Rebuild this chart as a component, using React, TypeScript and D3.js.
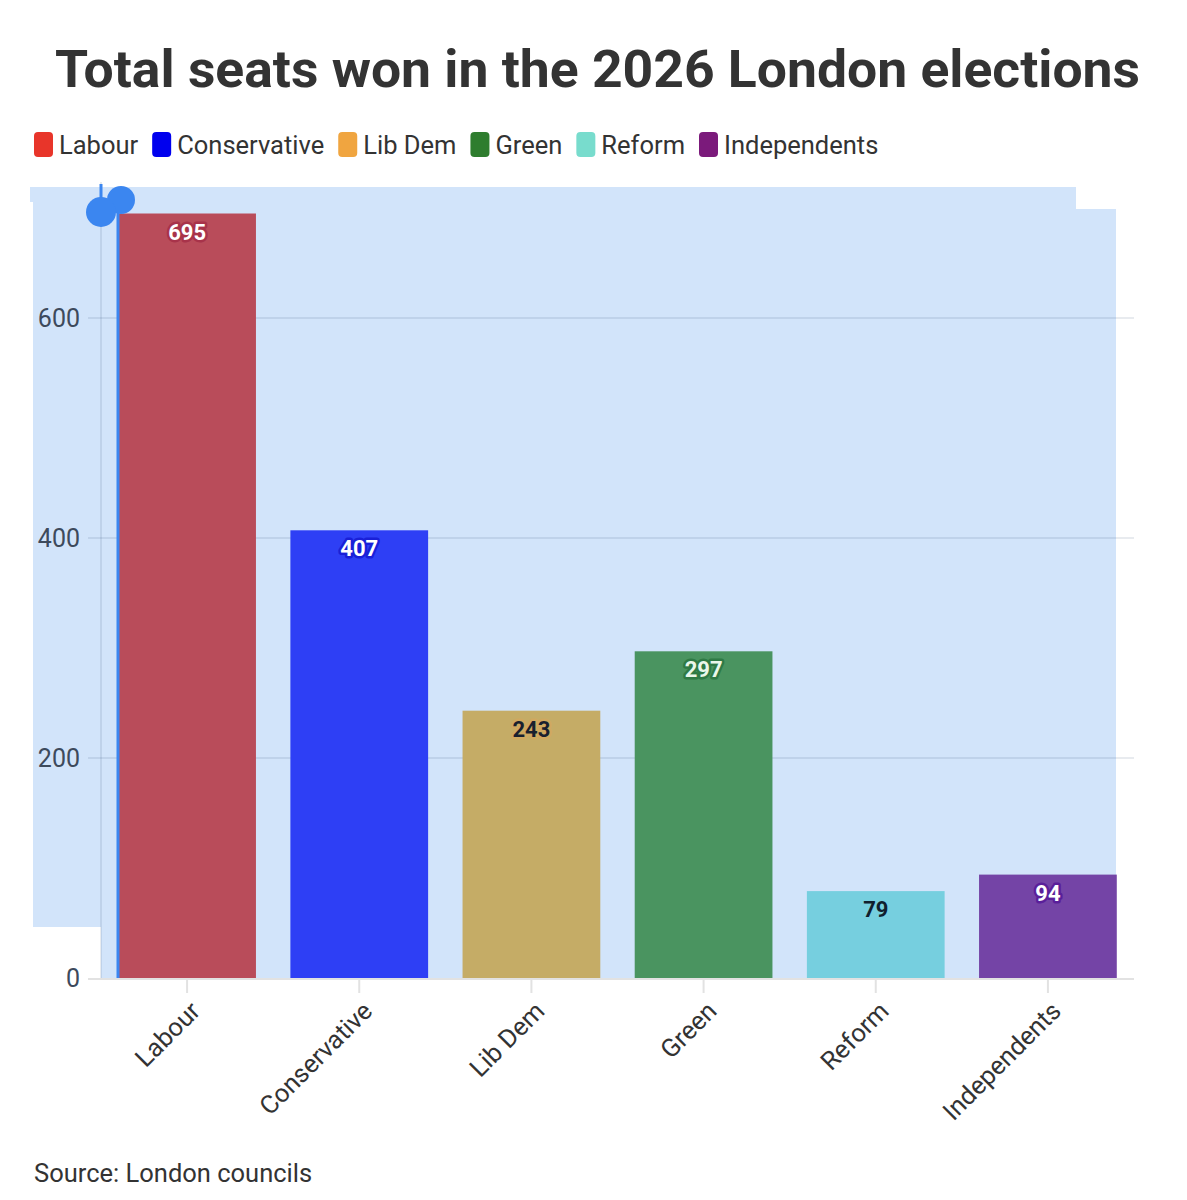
import { useEffect, useRef } from "react";
import * as d3 from "d3";

const parties = ["Labour", "Conservative", "Lib Dem", "Green", "Reform", "Independents"];
const seats = [695, 407, 243, 297, 79, 94];
const legendColors = ["#e8352a", "#0000ee", "#f0a540", "#2e7d2e", "#78dccd", "#7b1a7b"];
const barColors = ["#b94c5a", "#2e3ff5", "#c5ac66", "#4a9460", "#76cfdf", "#7444a6"];
const labelColors = ["#ffffff", "#ffffff", "#1a1f2e", "#eaf7ea", "#10202e", "#ffffff"];
const haloColors = ["#a8334a", "#1a20d8", "#d0a860", "#2f7a45", "#76cfdf", "#5a1f9a"];
const yTicks = [0, 200, 400, 600];

const FONT = "Roboto, 'Noto Sans', sans-serif";

const App = () => {
  const ref = useRef<SVGSVGElement | null>(null);

  useEffect(() => {
    if (!ref.current) return;
    const width = 1187;
    const height = 1200;

    const svg = d3.select(ref.current);
    svg.selectAll("*").remove();
    svg.attr("width", width).attr("height", height);

    svg.append("rect").attr("width", width).attr("height", height).attr("fill", "#fff");

    // title
    svg
      .append("text")
      .attr("x", 55)
      .attr("y", 87)
      .attr("textLength", 1085)
      .attr("lengthAdjust", "spacingAndGlyphs")
      .attr("font-family", FONT)
      .attr("font-weight", 700)
      .attr("font-size", 52)
      .attr("fill", "#333")
      .text("Total seats won in the 2026 London elections");

    // legend
    const legend = svg.append("g").attr("transform", "translate(34, 145)");
    let lx = 0;
    parties.forEach((p, i) => {
      const g = legend.append("g").attr("transform", `translate(${lx}, 0)`);
      g.append("rect")
        .attr("x", 0)
        .attr("y", -13)
        .attr("width", 19)
        .attr("height", 25)
        .attr("rx", 4)
        .attr("fill", legendColors[i]);
      const t = g
        .append("text")
        .attr("x", 25)
        .attr("y", 9)
        .attr("font-family", FONT)
        .attr("font-size", 25.5)
        .attr("fill", "#333")
        .text(p);
      const w = (t.node() as SVGTextElement).getComputedTextLength();
      lx += 25 + w + 14;
    });

    const x = d3
      .scaleBand<string>()
      .domain(parties)
      .range([101, 1134])
      .paddingInner(0.2)
      .paddingOuter(0.1);

    const y = d3.scaleLinear().domain([0, 600]).range([978, 318]);

    // selection highlight behind the plot
    svg
      .append("path")
      .attr(
        "d",
        "M30,187 L1076,187 L1076,209 L1116,209 L1116,978 L101,978 L101,927 L33,927 L33,202 L30,202 Z"
      )
      .attr("fill", "#d2e4fa");

    // grid
    svg
      .append("g")
      .selectAll("line")
      .data(yTicks.filter((d) => d > 0))
      .join("line")
      .attr("x1", 88)
      .attr("x2", 1134)
      .attr("y1", (d) => y(d))
      .attr("y2", (d) => y(d))
      .attr("stroke", "#1e3a5f")
      .attr("stroke-opacity", 0.1)
      .attr("stroke-width", 2);

    // y axis line
    svg
      .append("line")
      .attr("x1", 101)
      .attr("x2", 101)
      .attr("y1", 182)
      .attr("y2", 978)
      .attr("stroke", "#1e3a5f")
      .attr("stroke-opacity", 0.1)
      .attr("stroke-width", 2);

    // y tick labels
    svg
      .append("g")
      .selectAll("text")
      .data(yTicks)
      .join("text")
      .attr("x", 80)
      .attr("y", (d) => y(d))
      .attr("dy", "0.36em")
      .attr("text-anchor", "end")
      .attr("font-family", FONT)
      .attr("font-size", 25)
      .attr("fill", "#3d4a5c")
      .text((d) => d);

    // bars
    svg
      .append("g")
      .selectAll("rect")
      .data(seats)
      .join("rect")
      .attr("x", (_, i) => x(parties[i])!)
      .attr("y", (d) => y(d))
      .attr("width", x.bandwidth())
      .attr("height", (d) => y(0) - y(d))
      .attr("fill", (_, i) => barColors[i]);

    // value labels
    svg
      .append("g")
      .selectAll("text")
      .data(seats)
      .join("text")
      .attr("x", (_, i) => x(parties[i])! + x.bandwidth() / 2)
      .attr("y", (d) => y(d) + 26)
      .attr("text-anchor", "middle")
      .attr("font-family", FONT)
      .attr("font-weight", 700)
      .attr("font-size", 22)
      .attr("fill", (_, i) => labelColors[i])
      .attr("stroke", (_, i) => haloColors[i])
      .attr("stroke-width", 5)
      .attr("stroke-linejoin", "round")
      .attr("paint-order", "stroke")
      .text((d) => d);

    // x axis baseline + ticks
    svg
      .append("line")
      .attr("x1", 88)
      .attr("x2", 1134)
      .attr("y1", 979)
      .attr("y2", 979)
      .attr("stroke", "#e2e2e2")
      .attr("stroke-width", 2);

    svg
      .append("g")
      .selectAll("line")
      .data(parties)
      .join("line")
      .attr("x1", (d) => x(d)! + x.bandwidth() / 2)
      .attr("x2", (d) => x(d)! + x.bandwidth() / 2)
      .attr("y1", 980)
      .attr("y2", 993)
      .attr("stroke", "#e2e2e2")
      .attr("stroke-width", 2);

    svg
      .append("g")
      .selectAll("text")
      .data(parties)
      .join("text")
      .attr(
        "transform",
        (d) => `translate(${x(d)! + x.bandwidth() / 2 + 2}, 1000) rotate(-45)`
      )
      .attr("text-anchor", "end")
      .attr("dy", "0.7em")
      .attr("font-family", FONT)
      .attr("font-size", 25.5)
      .attr("fill", "#333")
      .text((d) => d);

    // selection handles
    svg
      .append("line")
      .attr("x1", 101)
      .attr("x2", 101)
      .attr("y1", 184)
      .attr("y2", 205)
      .attr("stroke", "#3b86f0")
      .attr("stroke-width", 3);
    svg
      .append("line")
      .attr("x1", 118)
      .attr("x2", 118)
      .attr("y1", 205)
      .attr("y2", 978)
      .attr("stroke", "#3b86f0")
      .attr("stroke-width", 3);
    svg
      .append("circle")
      .attr("cx", 121)
      .attr("cy", 200)
      .attr("r", 14)
      .attr("fill", "#3b86f0");
    svg
      .append("circle")
      .attr("cx", 101)
      .attr("cy", 212)
      .attr("r", 15)
      .attr("fill", "#3b86f0");

    // source
    svg
      .append("text")
      .attr("x", 34)
      .attr("y", 1182)
      .attr("font-family", FONT)
      .attr("font-size", 25.5)
      .attr("fill", "#333")
      .text("Source: London councils");
  }, []);

  return <svg ref={ref} style={{ display: "block", margin: -8 }}></svg>;
};

export default App;
